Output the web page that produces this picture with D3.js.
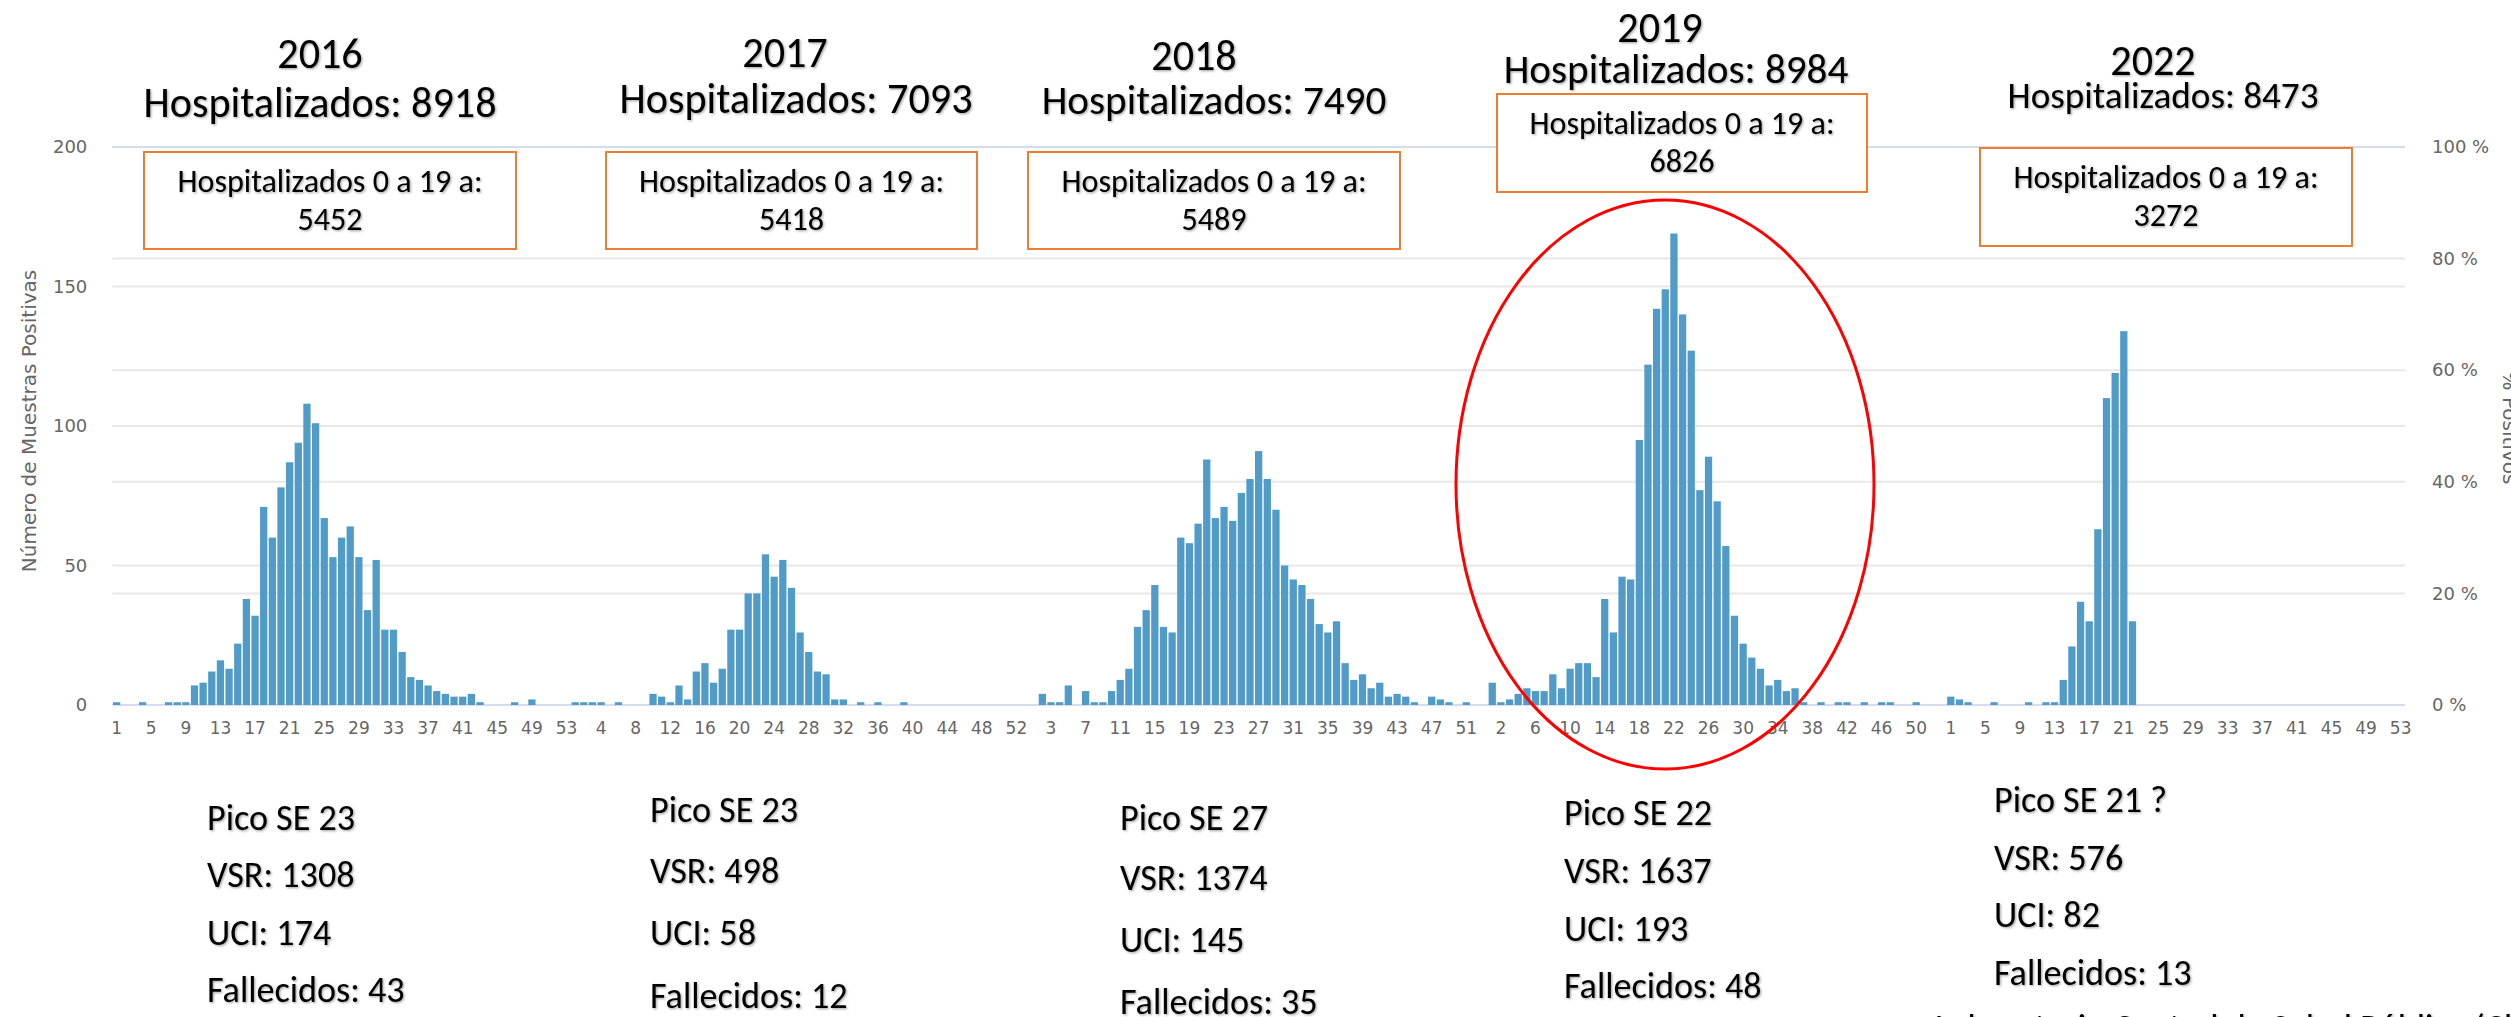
<!DOCTYPE html>
<html lang="es">
<head>
  <meta charset="UTF-8">
  <title>VSR - muestras positivas por semana epidemiológica</title>
  <style>
    html, body { margin: 0; padding: 0; background: #fff; overflow: hidden; }
    svg { display: block; }
    .tick text, .axis-title { font-family: "DejaVu Sans", Verdana, sans-serif; fill: #666; }
    .ppt { font-family: Carlito, Calibri, Lato, sans-serif; fill: #000; }
  </style>
</head>
<body>
  <svg width="2511" height="1017"></svg>

  <script src="https://d3js.org/d3.v7.min.js"></script>
  <script>
    // temporadas y semanas epidemiológicas (53 por año)
    const years = ["2016", "2017", "2018", "2019", "2022"];
    const WEEKS = 53;

    // muestras positivas VSR por semana (SE 1..53)
    const vsr2016 = [1, 0, 0, 1, 0, 0, 1, 1, 1, 7, 8, 12, 16, 13, 22, 38, 32, 71, 60, 78, 87, 94, 108, 101, 67, 53, 60, 64, 53, 34,
      52, 27, 27, 19, 10, 9, 7, 5, 4, 3, 3, 4, 1, 0, 0, 0, 1, 0, 2, 0, 0, 0, 0];
    const vsr2017 = [1, 1, 1, 1, 0, 1, 0, 0, 0, 4, 3, 1, 7, 2, 12, 15, 8, 13, 27, 27, 40, 40, 54, 46, 52, 42, 26, 19, 12, 11,
      2, 2, 0, 1, 0, 1, 0, 0, 1, 0, 0, 0, 0, 0, 0, 0, 0, 0, 0, 0, 0, 0, 0];
    const vsr2018 = [0, 4, 1, 1, 7, 0, 5, 1, 1, 5, 9, 13, 28, 34, 43, 28, 26, 60, 58, 65, 88, 67, 71, 66, 76, 81, 91, 81, 70, 50,
      45, 43, 38, 29, 26, 30, 15, 9, 11, 6, 8, 3, 4, 3, 1, 0, 3, 2, 1, 0, 1, 0, 0];
    const vsr2019 = [8, 1, 2, 4, 6, 5, 5, 11, 6, 13, 15, 15, 10, 38, 26, 46, 45, 95, 122, 142, 149, 169, 140, 127, 77, 89, 73, 57, 32, 22,
      17, 13, 7, 9, 5, 6, 1, 0, 1, 0, 1, 1, 0, 1, 0, 1, 1, 0, 0, 1, 0, 0, 0];
    const vsr2022 = [3, 2, 1, 0, 0, 1, 0, 0, 0, 1, 0, 1, 1, 9, 21, 37, 30, 63, 110, 119, 134, 30, 0, 0, 0, 0, 0, 0, 0, 0,
      0, 0, 0, 0, 0, 0, 0, 0, 0, 0, 0, 0, 0, 0, 0, 0, 0, 0, 0, 0, 0, 0, 0];
    const seasons = [vsr2016, vsr2017, vsr2018, vsr2019, vsr2022];

    // resumen por temporada
    const hospTotal = [8918, 7093, 7490, 8984, 8473];
    const hosp0a19 = [5452, 5418, 5489, 6826, 3272];
    const picoSE = ["23", "23", "27", "22", "21 ?"];
    const vsrTotal = [1308, 498, 1374, 1637, 576];
    const uciTotal = [174, 58, 145, 193, 82];
    const fallecidos = [43, 12, 35, 48, 13];

    const yTicksLeft = [0, 50, 100, 150, 200];
    const yTicksRight = [0, 20, 40, 60, 80, 100];
    const footnote = "Laboratorio Central de Salud Pública (Chile) (2022)";

    const svg = d3.select("svg");
    const plotL = 112.3, plotR = 2405, plotT = 147, plotB = 705;

    // sombra suave como en la diapositiva
    svg.append("defs").append("filter").attr("id", "shadow")
      .attr("x", "-5%").attr("y", "-20%").attr("width", "110%").attr("height", "140%")
      .append("feDropShadow").attr("dx", 1.2).attr("dy", 1.2).attr("stdDeviation", 0.8)
      .attr("flood-color", "#000").attr("flood-opacity", 0.35);

    const rows = [];
    seasons.forEach((vals, s) => vals.forEach((v, w) => rows.push({ key: years[s] + "-" + (w + 1), week: w + 1, value: v })));

    const x = d3.scaleBand().domain(rows.map(d => d.key)).range([plotL, plotR]).paddingInner(0.16).paddingOuter(0.08);
    const y = d3.scaleLinear().domain([0, 200]).range([plotB, plotT]);
    const yR = d3.scaleLinear().domain([0, 100]).range([plotB, plotT]);

    // líneas de grilla (eje izquierdo y derecho)
    const grid = svg.append("g");
    grid.selectAll("line.gl").data(yTicksLeft.map(y).concat(yTicksRight.map(yR)))
      .join("line")
      .attr("x1", plotL).attr("x2", plotR)
      .attr("y1", d => d).attr("y2", d => d)
      .attr("stroke", d => (Math.abs(d - plotB) < 1 || Math.abs(d - plotT) < 1) ? "#d5dcec" : "#e8e8e8")
      .attr("stroke-width", 2);

    // barras
    svg.append("g").selectAll("rect").data(rows.filter(d => d.value > 0)).join("rect")
      .attr("x", d => x(d.key))
      .attr("width", x.bandwidth())
      .attr("y", d => y(d.value))
      .attr("height", d => plotB - y(d.value))
      .attr("fill", "#519bc8");

    // ejes
    const axL = svg.append("g").attr("transform", `translate(${plotL},0)`)
      .call(d3.axisLeft(y).tickValues(yTicksLeft).tickSize(0).tickPadding(25));
    const axR = svg.append("g").attr("transform", `translate(${plotR},0)`)
      .call(d3.axisRight(yR).tickValues(yTicksRight).tickSize(0).tickPadding(27).tickFormat(d => d + " %"));
    const axB = svg.append("g").attr("transform", `translate(0,${plotB})`)
      .call(d3.axisBottom(x).tickValues(x.domain().filter((d, i) => i % 4 === 0))
        .tickSize(0).tickPadding(17).tickFormat(d => d.split("-")[1]));
    [axL, axR, axB].forEach(a => a.select(".domain").remove());
    axL.selectAll("text").style("font-size", "18px");
    axR.selectAll("text").style("font-size", "18px");
    axB.selectAll("text").style("font-size", "17px");

    svg.append("text").attr("class", "axis-title")
      .attr("transform", "translate(36,421) rotate(-90)")
      .attr("text-anchor", "middle").style("font-size", "20px")
      .text("Número de Muestras Positivas");
    svg.append("text").attr("class", "axis-title")
      .attr("transform", "translate(2503,428) rotate(90)")
      .attr("text-anchor", "middle").style("font-size", "20px")
      .text("% Positivos");

    // óvalo rojo sobre 2019
    svg.append("ellipse")
      .attr("cx", 1665).attr("cy", 484.5).attr("rx", 209).attr("ry", 284.5)
      .attr("fill", "none").attr("stroke", "#ff0000").attr("stroke-width", 3);

    // tamaño de letra equivalente a Calibri
    const probe = svg.append("text").attr("class", "ppt").style("font-size", "100px").text("Hospitalizados: 8918");
    const k = 840.6 / probe.node().getComputedTextLength();
    probe.remove();
    const fs = s => (s * k).toFixed(2) + "px";

    function pptText(xp, yp, txt, size, anchor) {
      return svg.append("text").attr("class", "ppt")
        .attr("x", xp).attr("y", yp)
        .attr("text-anchor", anchor || "middle")
        .attr("filter", "url(#shadow)")
        .style("font-size", fs(size))
        .text(txt);
    }

    // títulos por año
    const titleLayout = [
      { yx: 320, yy: 68, hx: 320, hy: 117, hs: 42 },
      { yx: 785, yy: 67, hx: 796, hy: 113, hs: 42 },
      { yx: 1194, yy: 70, hx: 1214, hy: 114, hs: 41 },
      { yx: 1660, yy: 42, hx: 1676, hy: 83, hs: 41 },
      { yx: 2153, yy: 75, hx: 2163, hy: 108, hs: 37 }
    ];
    // cajas naranjas
    const boxLayout = [
      [144, 152, 516, 249],
      [606, 152, 977, 249],
      [1028, 152, 1400, 249],
      [1497, 94, 1867, 192],
      [1980, 148, 2352, 246]
    ];
    // columnas de resumen inferiores
    const statLayout = [
      { x: 207, ys: [830, 887, 945, 1002] },
      { x: 650, ys: [822, 883, 945, 1008] },
      { x: 1120, ys: [830, 890, 952, 1014] },
      { x: 1564, ys: [825, 883, 941, 998] },
      { x: 1994, ys: [812, 870, 927, 985] }
    ];

    years.forEach((yr, i) => {
      const t = titleLayout[i];
      pptText(t.yx, t.yy, yr, 42);
      pptText(t.hx, t.hy, "Hospitalizados: " + hospTotal[i], t.hs);

      const b = boxLayout[i];
      svg.append("rect")
        .attr("x", b[0]).attr("y", b[1]).attr("width", b[2] - b[0]).attr("height", b[3] - b[1])
        .attr("fill", "#fff").attr("stroke", "#ed7d31").attr("stroke-width", 2);
      const cx = (b[0] + b[2]) / 2;
      pptText(cx, b[1] + 40, "Hospitalizados 0 a 19 a:", 32);
      pptText(cx, b[1] + 78, hosp0a19[i], 32);

      const st = statLayout[i];
      const lines = ["Pico SE " + picoSE[i], "VSR: " + vsrTotal[i], "UCI: " + uciTotal[i], "Fallecidos: " + fallecidos[i]];
      lines.forEach((ln, j) => pptText(st.x, st.ys[j], ln, 36, "start"));
    });

    pptText(1935, 1040, footnote, 36, "start");
  </script>
</body>
</html>
